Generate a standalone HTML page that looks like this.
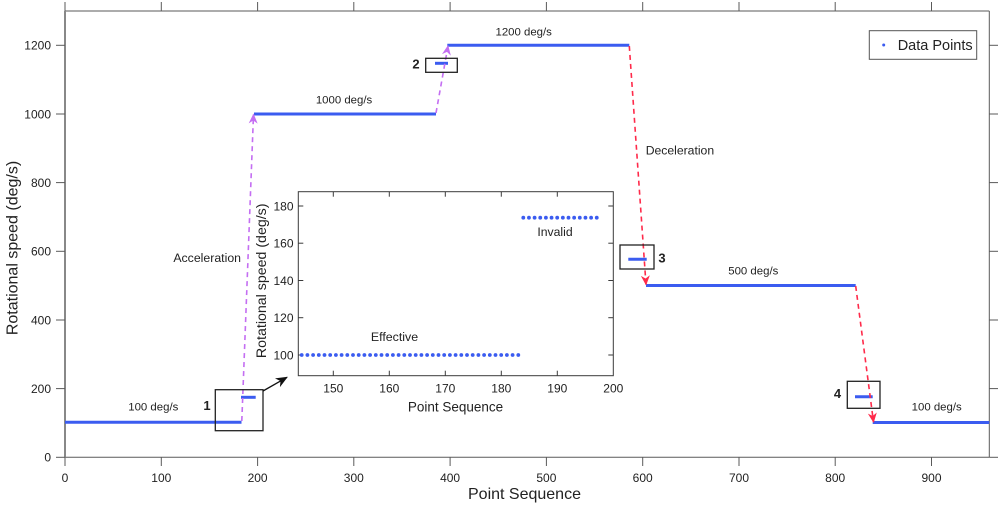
<!DOCTYPE html>
<html>
<head>
<meta charset="utf-8">
<style>
html,body{margin:0;padding:0;background:#fff;}
svg{display:block;}
text{font-family:"Liberation Sans",Arial,Helvetica,sans-serif;fill:#222;}
</style>
</head>
<body>
<svg width="1000" height="505" viewBox="0 0 1000 505" xmlns="http://www.w3.org/2000/svg">
<defs>
<marker id="ap" markerWidth="10" markerHeight="10" refX="9" refY="5" orient="auto" markerUnits="userSpaceOnUse">
<path d="M0,0.5 L10,5 L0,9.5 L3,5 Z" fill="#c46ef2"/>
</marker>
<marker id="ar" markerWidth="10" markerHeight="10" refX="9" refY="5" orient="auto" markerUnits="userSpaceOnUse">
<path d="M0,0.5 L10,5 L0,9.5 L3,5 Z" fill="#ff2a4a"/>
</marker>
<marker id="ab" markerWidth="12" markerHeight="12" refX="11" refY="6" orient="auto" markerUnits="userSpaceOnUse">
<path d="M0,1 L12,6 L0,11 L3.5,6 Z" fill="#111"/>
</marker>
</defs>

<!-- main axes box -->
<g stroke="#5a5a5a" stroke-width="1" fill="none">
<line x1="65" y1="11" x2="989.3" y2="11"/>
<line x1="65" y1="457.3" x2="989.3" y2="457.3"/>
<line x1="989.3" y1="11" x2="989.3" y2="457.3"/>
</g>
<line x1="65" y1="11" x2="65" y2="457.3" stroke="#888" stroke-width="2"/>

<!-- x ticks main (outward) -->
<g stroke="#5a5a5a" stroke-width="1">
<line x1="65" y1="457.3" x2="65" y2="466"/>
<line x1="161.3" y1="457.3" x2="161.3" y2="466"/>
<line x1="257.6" y1="457.3" x2="257.6" y2="466"/>
<line x1="353.8" y1="457.3" x2="353.8" y2="466"/>
<line x1="450.1" y1="457.3" x2="450.1" y2="466"/>
<line x1="546.4" y1="457.3" x2="546.4" y2="466"/>
<line x1="642.7" y1="457.3" x2="642.7" y2="466"/>
<line x1="739" y1="457.3" x2="739" y2="466"/>
<line x1="835.2" y1="457.3" x2="835.2" y2="466"/>
<line x1="931.5" y1="457.3" x2="931.5" y2="466"/>
<line x1="65" y1="11" x2="65" y2="2"/>
<line x1="161.3" y1="11" x2="161.3" y2="2"/>
<line x1="257.6" y1="11" x2="257.6" y2="2"/>
<line x1="353.8" y1="11" x2="353.8" y2="2"/>
<line x1="450.1" y1="11" x2="450.1" y2="2"/>
<line x1="546.4" y1="11" x2="546.4" y2="2"/>
<line x1="642.7" y1="11" x2="642.7" y2="2"/>
<line x1="739" y1="11" x2="739" y2="2"/>
<line x1="835.2" y1="11" x2="835.2" y2="2"/>
<line x1="931.5" y1="11" x2="931.5" y2="2"/>
<!-- y ticks -->
<line x1="56" y1="457.3" x2="65" y2="457.3"/>
<line x1="56" y1="388.6" x2="65" y2="388.6"/>
<line x1="56" y1="320" x2="65" y2="320"/>
<line x1="56" y1="251.3" x2="65" y2="251.3"/>
<line x1="56" y1="182.6" x2="65" y2="182.6"/>
<line x1="56" y1="114" x2="65" y2="114"/>
<line x1="56" y1="45.3" x2="65" y2="45.3"/>
<line x1="989.3" y1="457.3" x2="998" y2="457.3"/>
<line x1="989.3" y1="388.6" x2="998" y2="388.6"/>
<line x1="989.3" y1="320" x2="998" y2="320"/>
<line x1="989.3" y1="251.3" x2="998" y2="251.3"/>
<line x1="989.3" y1="182.6" x2="998" y2="182.6"/>
<line x1="989.3" y1="114" x2="998" y2="114"/>
<line x1="989.3" y1="45.3" x2="998" y2="45.3"/>
</g>

<!-- x tick labels -->
<g font-size="12" text-anchor="middle">
<text x="65" y="482">0</text>
<text x="161.3" y="482">100</text>
<text x="257.6" y="482">200</text>
<text x="353.8" y="482">300</text>
<text x="450.1" y="482">400</text>
<text x="546.4" y="482">500</text>
<text x="642.7" y="482">600</text>
<text x="739" y="482">700</text>
<text x="835.2" y="482">800</text>
<text x="931.5" y="482">900</text>
</g>
<!-- y tick labels -->
<g font-size="12" text-anchor="end">
<text x="51" y="461.6">0</text>
<text x="51" y="392.9">200</text>
<text x="51" y="324.3">400</text>
<text x="51" y="255.6">600</text>
<text x="51" y="186.9">800</text>
<text x="51" y="118.3">1000</text>
<text x="51" y="49.6">1200</text>
</g>

<text x="524.5" y="499" font-size="16" text-anchor="middle">Point Sequence</text>
<text transform="translate(17.5,248) rotate(-90)" font-size="16" text-anchor="middle">Rotational speed (deg/s)</text>

<!-- data lines -->
<g stroke="#3b5cf0" stroke-width="3" fill="none">
<line x1="65" y1="422.3" x2="241.5" y2="422.3"/>
<line x1="241" y1="397.3" x2="255.7" y2="397.3"/>
<line x1="254" y1="114" x2="436" y2="114"/>
<line x1="435" y1="63.3" x2="448" y2="63.3"/>
<line x1="447.3" y1="45.3" x2="629.3" y2="45.3"/>
<line x1="628.3" y1="259.3" x2="646.7" y2="259.3"/>
<line x1="646" y1="285.5" x2="855.7" y2="285.5"/>
<line x1="855" y1="396.7" x2="872.7" y2="396.7"/>
<line x1="872.7" y1="422.5" x2="989.3" y2="422.5"/>
</g>

<!-- dashed arrows -->
<g stroke-width="1.6" fill="none" stroke-dasharray="5,4">
<line x1="241.8" y1="421" x2="253.5" y2="114.5" stroke="#c46ef2" marker-end="url(#ap)"/>
<line x1="436" y1="113" x2="448" y2="46" stroke="#c46ef2" marker-end="url(#ap)"/>
<line x1="629.3" y1="46" x2="646" y2="284.5" stroke="#ff2a4a" marker-end="url(#ar)"/>
<line x1="855.7" y1="286" x2="873.5" y2="422" stroke="#ff2a4a" marker-end="url(#ar)"/>
</g>

<!-- boxes -->
<g stroke="#222" stroke-width="1.3" fill="none">
<rect x="215.3" y="389.7" width="47.7" height="41"/>
<rect x="425.7" y="58.3" width="31.6" height="14"/>
<rect x="620" y="245" width="34" height="24"/>
<rect x="847.3" y="381.3" width="32.7" height="27"/>
</g>
<line x1="263" y1="391" x2="287" y2="377.3" stroke="#111" stroke-width="1.3" marker-end="url(#ab)"/>

<g font-size="13" font-weight="bold" text-anchor="middle">
<text x="207" y="410">1</text>
<text x="416" y="68.5">2</text>
<text x="662" y="262.3">3</text>
<text x="837.5" y="398">4</text>
</g>

<!-- annotations -->
<g font-size="11.4" text-anchor="middle">
<text x="153.3" y="410.7">100 deg/s</text>
<text x="344" y="103.3">1000 deg/s</text>
<text x="523.7" y="35.7">1200 deg/s</text>
<text x="753.3" y="274.7">500 deg/s</text>
<text x="936.7" y="410.7">100 deg/s</text>
</g>
<text x="241" y="262" font-size="12.3" text-anchor="end">Acceleration</text>
<text x="645.7" y="154.3" font-size="12.2">Deceleration</text>

<!-- legend -->
<rect x="869.3" y="30.7" width="107.4" height="28.6" fill="#fff" stroke="#555" stroke-width="1"/>
<circle cx="883.7" cy="45" r="1.5" fill="#3b5cf0"/>
<text x="897.7" y="50.2" font-size="14.5">Data Points</text>

<!-- inset -->
<rect x="298.3" y="191.7" width="315" height="184" fill="#fff" stroke="#3a3a3a" stroke-width="1"/>
<g stroke="#3a3a3a" stroke-width="1">
<line x1="333.3" y1="375.7" x2="333.3" y2="370.7"/>
<line x1="389.3" y1="375.7" x2="389.3" y2="370.7"/>
<line x1="445.3" y1="375.7" x2="445.3" y2="370.7"/>
<line x1="501.3" y1="375.7" x2="501.3" y2="370.7"/>
<line x1="557.3" y1="375.7" x2="557.3" y2="370.7"/>
<line x1="333.3" y1="191.7" x2="333.3" y2="196.7"/>
<line x1="389.3" y1="191.7" x2="389.3" y2="196.7"/>
<line x1="445.3" y1="191.7" x2="445.3" y2="196.7"/>
<line x1="501.3" y1="191.7" x2="501.3" y2="196.7"/>
<line x1="557.3" y1="191.7" x2="557.3" y2="196.7"/>
<line x1="298.3" y1="206" x2="303.3" y2="206"/>
<line x1="298.3" y1="243.2" x2="303.3" y2="243.2"/>
<line x1="298.3" y1="280.5" x2="303.3" y2="280.5"/>
<line x1="298.3" y1="317.7" x2="303.3" y2="317.7"/>
<line x1="298.3" y1="355" x2="303.3" y2="355"/>
<line x1="613.3" y1="206" x2="608.3" y2="206"/>
<line x1="613.3" y1="243.2" x2="608.3" y2="243.2"/>
<line x1="613.3" y1="280.5" x2="608.3" y2="280.5"/>
<line x1="613.3" y1="317.7" x2="608.3" y2="317.7"/>
<line x1="613.3" y1="355" x2="608.3" y2="355"/>
</g>
<g font-size="12" text-anchor="middle">
<text x="333.3" y="392.5">150</text>
<text x="389.3" y="392.5">160</text>
<text x="445.3" y="392.5">170</text>
<text x="501.3" y="392.5">180</text>
<text x="557.3" y="392.5">190</text>
<text x="613.3" y="392.5">200</text>
</g>
<g font-size="12" text-anchor="end">
<text x="293.5" y="210.3">180</text>
<text x="293.5" y="247.5">160</text>
<text x="293.5" y="284.8">140</text>
<text x="293.5" y="322">120</text>
<text x="293.5" y="359.3">100</text>
</g>
<text x="455.5" y="411.5" font-size="13.5" text-anchor="middle">Point Sequence</text>
<text transform="translate(266,280.8) rotate(-90)" font-size="14.2" text-anchor="middle">Rotational speed (deg/s)</text>
<text x="394.5" y="341" font-size="12.4" text-anchor="middle">Effective</text>
<text x="555" y="236" font-size="12.2" text-anchor="middle">Invalid</text>

<g fill="#3b5cf0">
<circle cx="301.7" cy="355" r="1.9"/><circle cx="307.4" cy="355" r="1.9"/><circle cx="313.1" cy="355" r="1.9"/><circle cx="318.8" cy="355" r="1.9"/><circle cx="324.5" cy="355" r="1.9"/><circle cx="330.2" cy="355" r="1.9"/><circle cx="335.9" cy="355" r="1.9"/><circle cx="341.6" cy="355" r="1.9"/><circle cx="347.3" cy="355" r="1.9"/><circle cx="353" cy="355" r="1.9"/><circle cx="358.7" cy="355" r="1.9"/><circle cx="364.4" cy="355" r="1.9"/><circle cx="370.1" cy="355" r="1.9"/><circle cx="375.8" cy="355" r="1.9"/><circle cx="381.5" cy="355" r="1.9"/><circle cx="387.2" cy="355" r="1.9"/><circle cx="392.9" cy="355" r="1.9"/><circle cx="398.6" cy="355" r="1.9"/><circle cx="404.3" cy="355" r="1.9"/><circle cx="410" cy="355" r="1.9"/><circle cx="415.7" cy="355" r="1.9"/><circle cx="421.4" cy="355" r="1.9"/><circle cx="427.1" cy="355" r="1.9"/><circle cx="432.8" cy="355" r="1.9"/><circle cx="438.5" cy="355" r="1.9"/><circle cx="444.2" cy="355" r="1.9"/><circle cx="449.9" cy="355" r="1.9"/><circle cx="455.6" cy="355" r="1.9"/><circle cx="461.3" cy="355" r="1.9"/><circle cx="467" cy="355" r="1.9"/><circle cx="472.7" cy="355" r="1.9"/><circle cx="478.4" cy="355" r="1.9"/><circle cx="484.1" cy="355" r="1.9"/><circle cx="489.8" cy="355" r="1.9"/><circle cx="495.5" cy="355" r="1.9"/><circle cx="501.2" cy="355" r="1.9"/><circle cx="506.9" cy="355" r="1.9"/><circle cx="512.6" cy="355" r="1.9"/><circle cx="518.3" cy="355" r="1.9"/>
<circle cx="523.3" cy="217.7" r="1.9"/><circle cx="528.95" cy="217.7" r="1.9"/><circle cx="534.6" cy="217.7" r="1.9"/><circle cx="540.25" cy="217.7" r="1.9"/><circle cx="545.9" cy="217.7" r="1.9"/><circle cx="551.55" cy="217.7" r="1.9"/><circle cx="557.2" cy="217.7" r="1.9"/><circle cx="562.85" cy="217.7" r="1.9"/><circle cx="568.5" cy="217.7" r="1.9"/><circle cx="574.15" cy="217.7" r="1.9"/><circle cx="579.8" cy="217.7" r="1.9"/><circle cx="585.45" cy="217.7" r="1.9"/><circle cx="591.1" cy="217.7" r="1.9"/><circle cx="596.75" cy="217.7" r="1.9"/>
</g>
</svg>
</body>
</html>
